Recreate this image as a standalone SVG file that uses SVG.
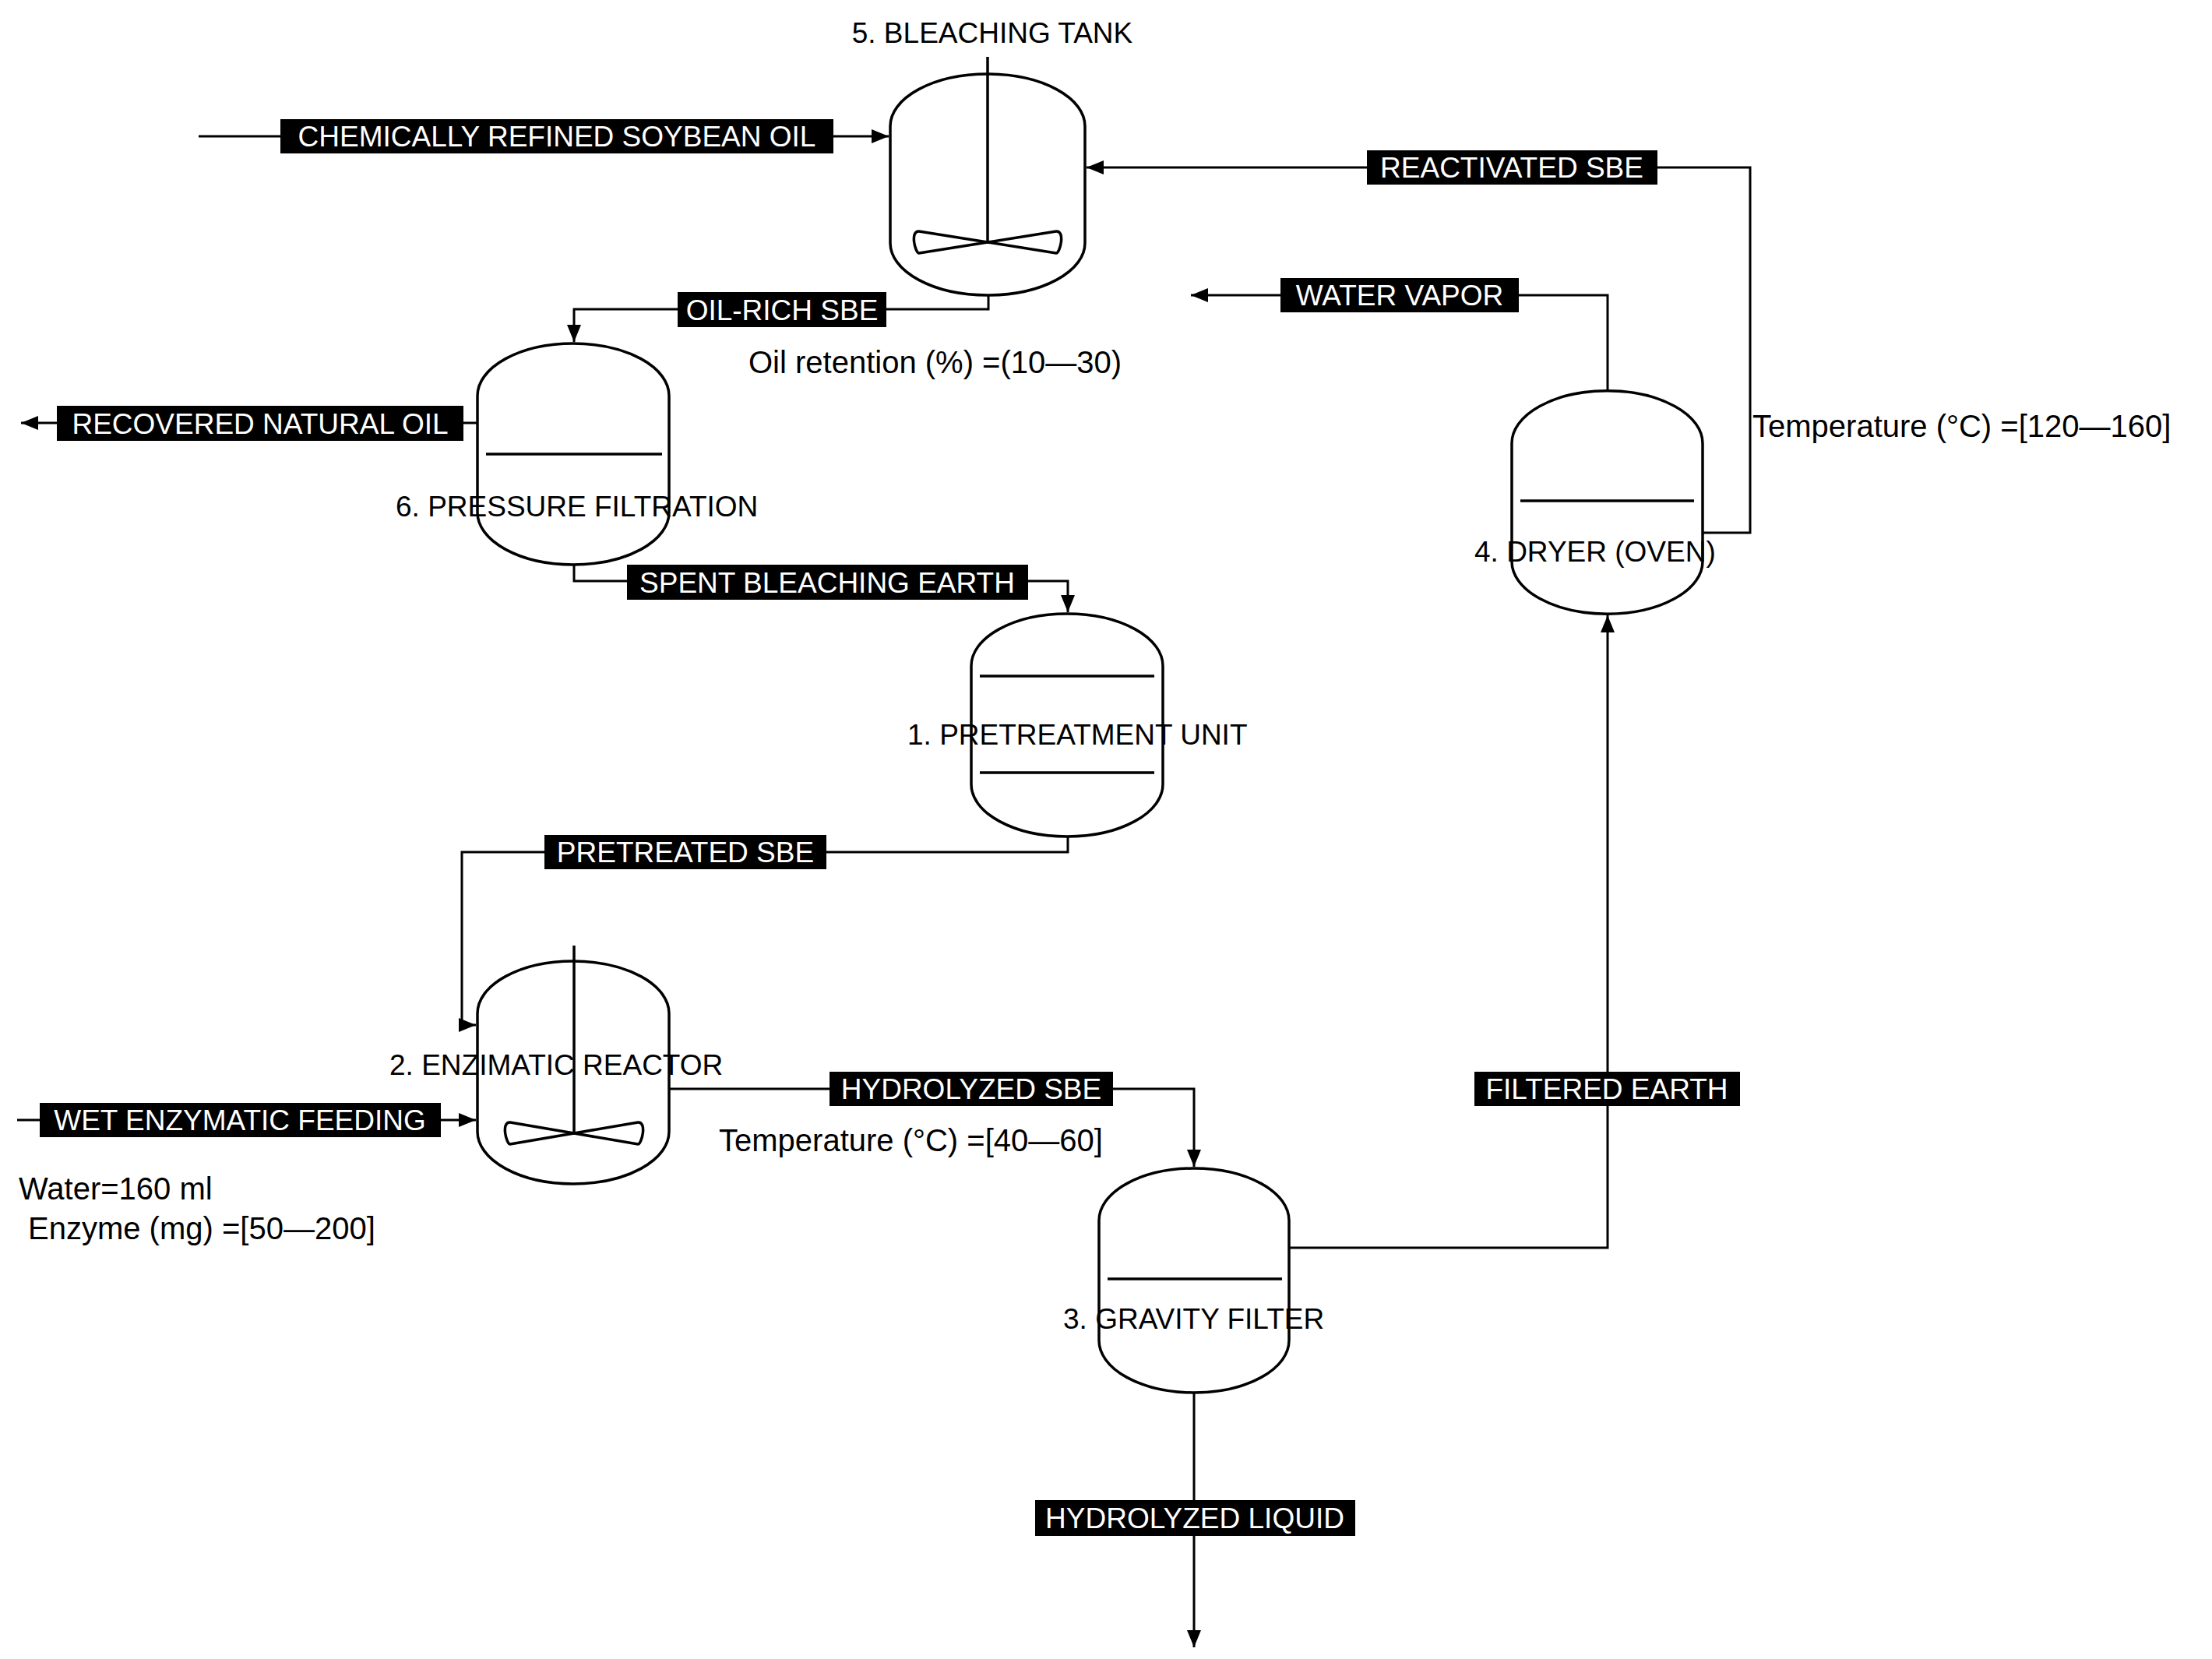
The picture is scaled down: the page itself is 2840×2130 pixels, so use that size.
<svg xmlns="http://www.w3.org/2000/svg" width="2840" height="2130" viewBox="0 0 2840 2130">
<style>
.v{fill:none;stroke:#000;stroke-width:3.5}
.c{fill:none;stroke:#000;stroke-width:3}
.lb{fill:#000}
.lt{font-family:"Liberation Sans",Arial,sans-serif;font-size:37px;fill:#fff;text-anchor:middle}
.t{font-family:"Liberation Sans",Arial,sans-serif;font-size:40px;fill:#000}
.n{font-family:"Liberation Sans",Arial,sans-serif;font-size:37px;fill:#000}
</style>
<defs>
<marker id="ah" markerUnits="userSpaceOnUse" markerWidth="24" markerHeight="18" refX="22" refY="9" orient="auto"><path d="M0,0 L22,9 L0,18 Z" fill="#000"/></marker>
</defs>
<rect width="2840" height="2130" fill="#fff"/>
<g id="connectors">
<path class="c" d="M255,175 H1141" marker-end="url(#ah)"/>
<path class="c" d="M2186,684 H2247 V215 H1395" marker-end="url(#ah)"/>
<path class="c" d="M2064,502 V379 H1529" marker-end="url(#ah)"/>
<path class="c" d="M1269,379 V397 H737 V439" marker-end="url(#ah)"/>
<path class="c" d="M613,543 H27" marker-end="url(#ah)"/>
<path class="c" d="M737,725 V746 H1371 V786" marker-end="url(#ah)"/>
<path class="c" d="M1371,1074 V1094 H593 V1316 H611" marker-end="url(#ah)"/>
<path class="c" d="M22,1438 H611" marker-end="url(#ah)"/>
<path class="c" d="M859,1398 H1533 V1498" marker-end="url(#ah)"/>
<path class="c" d="M1655,1602 H2064 V790" marker-end="url(#ah)"/>
<path class="c" d="M1533,1788 V2115" marker-end="url(#ah)"/>
<rect class="lb" x="360" y="153" width="710" height="44"/><text class="lt" x="715" y="188">CHEMICALLY REFINED SOYBEAN OIL</text>
<rect class="lb" x="1755" y="193" width="373" height="44"/><text class="lt" x="1941" y="228">REACTIVATED SBE</text>
<rect class="lb" x="1644" y="357" width="306" height="44"/><text class="lt" x="1797" y="392">WATER VAPOR</text>
<rect class="lb" x="870" y="375" width="268" height="45"/><text class="lt" x="1004" y="411">OIL-RICH SBE</text>
<rect class="lb" x="73" y="521" width="522" height="45"/><text class="lt" x="334" y="557">RECOVERED NATURAL OIL</text>
<rect class="lb" x="805" y="725" width="515" height="45"/><text class="lt" x="1062" y="761">SPENT BLEACHING EARTH</text>
<rect class="lb" x="699" y="1072" width="362" height="44"/><text class="lt" x="880" y="1107">PRETREATED SBE</text>
<rect class="lb" x="51" y="1416" width="515" height="44"/><text class="lt" x="308" y="1451">WET ENZYMATIC FEEDING</text>
<rect class="lb" x="1065" y="1376" width="364" height="44"/><text class="lt" x="1247" y="1411">HYDROLYZED SBE</text>
<rect class="lb" x="1893" y="1376" width="341" height="44"/><text class="lt" x="2063" y="1411">FILTERED EARTH</text>
<rect class="lb" x="1329" y="1926" width="411" height="46"/><text class="lt" x="1534" y="1962">HYDROLYZED LIQUID</text>
<text class="t" x="961" y="479">Oil retention (%) =(10—30)</text>
<text class="t" x="2250" y="561">Temperature (°C) =[120—160]</text>
<text class="t" x="923" y="1478">Temperature (°C) =[40—60]</text>
<text class="t" x="24" y="1540">Water=160 ml</text>
<text class="t" x="36" y="1591">Enzyme (mg) =[50—200]</text>
</g>
<g id="tank5">
<path class="v" d="M1143,162 A125,67 0 0 1 1393,162 V312 A125,67 0 0 1 1143,312 Z"/>
<path class="v" d="M1268,73 V311"/>
<path class="v" d="M1268,311 L1180,297 C1168,296 1175,325 1180,325 Z M1268,311 L1356,297 C1368,296 1361,325 1356,325 Z"/>
<text class="n" x="1274" y="55" text-anchor="middle">5. BLEACHING TANK</text>
</g>
<g id="tank6">
<path class="v" d="M613,508 A123,67 0 0 1 859,508 V658 A123,67 0 0 1 613,658 Z"/>
<path class="v" d="M624,583 H850"/>
<text class="n" x="508" y="663">6. PRESSURE FILTRATION</text>
</g>
<g id="tank1">
<path class="v" d="M1247,855 A123,67 0 0 1 1493,855 V1007 A123,67 0 0 1 1247,1007 Z"/>
<path class="v" d="M1258,868 H1482 M1258,992 H1482"/>
<text class="n" x="1165" y="956">1. PRETREATMENT UNIT</text>
</g>
<g id="tank2">
<path class="v" d="M613,1301 A123,67 0 0 1 859,1301 V1453 A123,67 0 0 1 613,1453 Z"/>
<path class="v" d="M737,1214 V1453"/>
<path class="v" d="M737,1455 L655,1441 C643,1440 650,1469 655,1469 Z M737,1455 L819,1441 C831,1440 824,1469 819,1469 Z"/>
<text class="n" x="500" y="1380">2. ENZIMATIC REACTOR</text>
</g>
<g id="tank3">
<path class="v" d="M1411,1567 A122,67 0 0 1 1655,1567 V1721 A122,67 0 0 1 1411,1721 Z"/>
<path class="v" d="M1422,1642 H1646"/>
<text class="n" x="1365" y="1706">3. GRAVITY FILTER</text>
</g>
<g id="tank4">
<path class="v" d="M1941,569 A122,67 0 0 1 2186,569 V721 A122,67 0 0 1 1941,721 Z"/>
<path class="v" d="M1952,643 H2175"/>
<text class="n" x="1893" y="721">4. DRYER (OVEN)</text>
</g>
</svg>
